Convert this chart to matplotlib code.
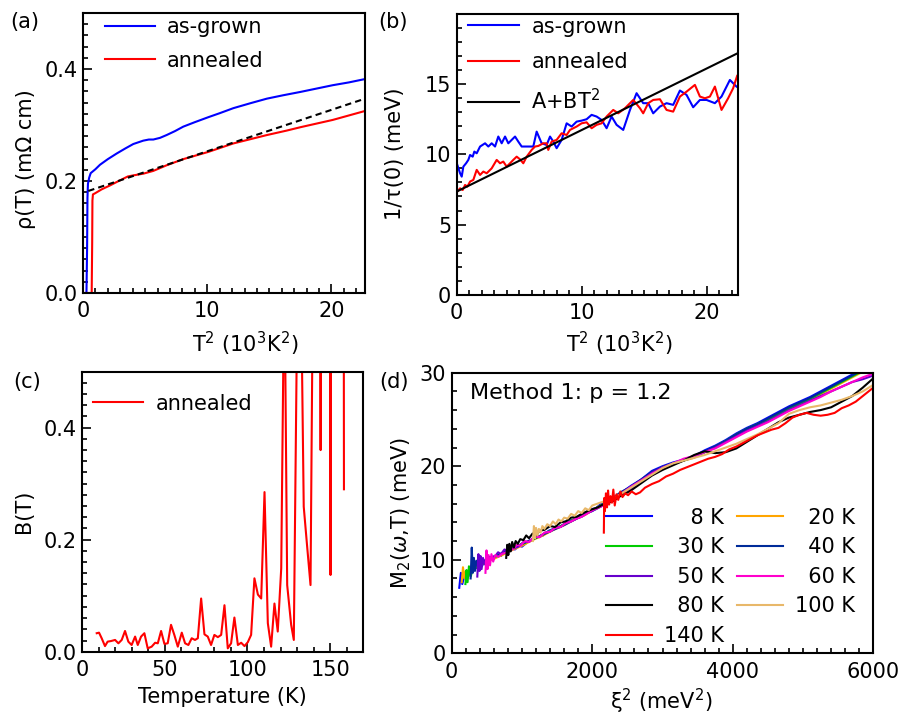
# -*- coding: utf-8 -*-
"""
Four panel figure: resistivity, scattering rate, B(T) and M2 scaling
"""

import numpy as np
import matplotlib
matplotlib.use('Agg')
import matplotlib.pyplot as plt
from matplotlib.ticker import MultipleLocator, FormatStrFormatter

plt.rcParams['font.family'] = ['DejaVu Sans']
plt.rcParams['font.size'] = 15
plt.rcParams['mathtext.fontset'] = 'dejavusans'

################ DATOS ####################################################

# (a) rho(T) vs T^2  (10^3 K^2)
rho_grown_x = [0.2, 0.28, 0.33, 0.36, 0.40, 0.50, 0.62, 1.0, 1.37, 2.0, 2.71, 3.4, 4.05,
               4.85, 5.3, 5.66, 6.2, 6.73, 7.4, 8.07, 9.0, 10.1, 11.0, 12.1, 13.5, 14.8,
               16.1, 17.5, 18.8, 20.1, 21.4, 22.7]
rho_grown_y = [0.0, 0.0, 0.08, 0.17, 0.195, 0.206, 0.214, 0.221, 0.229, 0.239, 0.249, 0.258,
               0.266, 0.272, 0.274, 0.274, 0.277, 0.282, 0.289, 0.297, 0.305, 0.314, 0.321,
               0.330, 0.339, 0.347, 0.353, 0.359, 0.365, 0.371, 0.376, 0.382]
rho_ann_x = [0.2, 0.7, 0.74, 0.76, 0.8, 0.97, 1.5, 2.17, 2.7, 3.24, 3.6, 4.05, 4.85, 5.66,
             6.73, 8.07, 10.1, 12.1, 14.8, 16.4, 17.5, 20.1, 22.7]
rho_ann_y = [0.0, 0.0, 0.09, 0.165, 0.176, 0.178, 0.185, 0.192, 0.198, 0.204, 0.208, 0.210,
             0.213, 0.218, 0.228, 0.239, 0.252, 0.267, 0.282, 0.290, 0.296, 0.309, 0.325]
rho_fit_A = 0.179
rho_fit_B = 0.0074
rho_fit_range = [0.43, 22.7]

# (b) 1/tau(0) vs T^2
tau_grown_x = [0.05, 0.27, 0.40, 0.53, 0.75, 0.93, 1.07, 1.28, 1.41, 1.60, 1.87, 2.27, 2.53,
               2.80, 3.07, 3.33, 3.60, 3.87, 4.13, 4.40, 4.67, 4.93, 5.20, 5.60, 6.13, 6.40,
               6.80, 7.20, 7.47, 7.73, 8.00, 8.40, 8.80, 9.20, 9.60, 10.00, 10.40, 10.80,
               11.20, 11.60, 12.00, 12.40, 12.80, 13.33, 13.87, 14.40, 14.93, 15.33, 15.73,
               16.27, 16.80, 17.33, 17.87, 18.40, 18.93, 19.47, 20.00, 20.67, 21.20, 21.87,
               22.40]
tau_grown_y = [9.24, 8.65, 8.41, 9.12, 9.36, 9.60, 9.95, 9.83, 10.19, 10.07, 10.55, 10.78,
               10.55, 10.78, 10.55, 11.26, 10.78, 11.26, 10.78, 11.02, 11.26, 10.90, 10.55,
               10.55, 10.55, 11.61, 10.78, 10.66, 11.26, 10.90, 10.43, 11.02, 12.20, 11.97,
               12.32, 12.39, 12.49, 12.80, 12.68, 12.44, 11.85, 12.68, 12.09, 11.73, 13.15,
               14.34, 13.63, 13.63, 12.91, 13.39, 13.63, 13.51, 14.53, 14.22, 13.34, 13.86,
               13.86, 13.63, 14.10, 15.28, 14.81]
tau_ann_x = [0.05, 0.27, 0.48, 0.67, 0.85, 1.07, 1.33, 1.60, 1.87, 2.13, 2.40, 2.80, 3.20,
             3.47, 3.73, 4.00, 4.27, 4.53, 4.80, 5.07, 5.33, 5.60, 6.00, 6.27, 6.53, 6.93,
             7.20, 7.33, 7.60, 8.00, 8.40, 8.80, 9.07, 9.60, 10.00, 10.40, 10.80, 11.20,
             11.60, 12.00, 12.53, 12.93, 13.47, 14.13, 14.67, 14.93, 15.33, 15.73, 16.27,
             16.80, 17.33, 17.87, 18.40, 19.07, 19.47, 19.87, 20.27, 20.67, 21.20, 21.73,
             22.13, 22.45]
tau_ann_y = [7.35, 7.58, 7.46, 7.82, 7.70, 8.06, 8.18, 8.89, 8.53, 8.77, 8.65, 9.00, 9.60,
             9.36, 9.48, 9.12, 9.36, 9.60, 9.83, 9.64, 9.36, 9.83, 10.31, 10.55, 10.59,
             10.78, 10.78, 10.31, 10.90, 11.02, 11.49, 11.37, 11.73, 11.97, 12.20, 12.27,
             11.85, 12.09, 12.20, 12.68, 13.15, 12.91, 13.27, 13.86, 13.27, 12.91, 13.63,
             13.86, 13.91, 13.15, 13.03, 14.10, 14.45, 14.93, 14.10, 13.98, 14.10, 14.81,
             13.15, 13.98, 14.69, 15.57]
tau_fit_A = 7.35
tau_fit_B = 0.437
tau_fit_range = [0.0, 22.5]

# (c) B(T) annealed
T_c = [8.9, 10.3, 11.9, 13.9, 15.5, 17.5, 20.0, 22.0, 24.0, 26.0, 28.0, 30.0, 32.1, 33.7,
       35.7, 37.7, 39.7, 42.1, 44.2, 45.8, 47.8, 49.8, 51.8, 53.8, 55.8, 57.9, 60.3, 62.3,
       64.3, 66.3, 68.3, 70.0, 72.0, 74.0, 76.0, 78.0, 80.0, 82.1, 84.1, 86.1, 88.1, 90.1,
       92.1, 94.2, 96.2, 98.2, 100.2, 102.2, 104.2, 106.3, 108.3, 110.3, 112.3, 114.3,
       116.3, 118.3, 120.4, 122.3, 124.0, 126.4, 128.0, 130.0, 132.0, 134.0, 136.0, 138.1,
       140.0, 142.0, 144.2, 146.0, 148.0, 150.2, 152.0, 154.0, 156.0, 158.3]
B_c = [0.033, 0.034, 0.024, 0.010, 0.018, 0.019, 0.021, 0.015, 0.021, 0.037, 0.018, 0.012,
       0.027, 0.012, 0.027, 0.033, 0.006, 0.009, 0.016, 0.015, 0.037, 0.014, 0.015, 0.048,
       0.030, 0.009, 0.034, 0.015, 0.012, 0.024, 0.021, 0.024, 0.095, 0.031, 0.027, 0.012,
       0.030, 0.026, 0.030, 0.083, 0.006, 0.015, 0.061, 0.012, 0.016, 0.010, 0.017, 0.030,
       0.131, 0.102, 0.095, 0.285, 0.051, 0.009, 0.086, 0.036, 0.149, 0.70, 0.119, 0.048,
       0.021, 0.60, 0.74, 0.259, 0.19, 0.119, 0.84, 8.0, 0.36, 8.0, 8.0, 0.137, 8.0, 8.0,
       8.0, 0.29]

# (d) M2(w,T) vs xi^2
xi_grid = [2400, 2550, 2700, 2850, 3000, 3150, 3300, 3450, 3600, 3750, 3900, 4050, 4200,
           4350, 4500, 4650, 4800, 4950, 5100, 5250, 5400, 5550, 5700, 5850, 6000]

xi_8 = [107, 130, 150, 170, 200, 230, 260, 300, 330, 360, 400, 430, 460, 500, 540, 600,
        650, 700, 760, 800, 860, 900, 960, 1000, 1080, 1150, 1220, 1300, 1380, 1450, 1530,
        1600, 1680, 1750, 1830, 1900, 1980, 2050, 2130, 2200] + xi_grid
m2_8 = [7.0, 8.6, 7.4, 8.0, 8.4, 8.1, 8.9, 9.0, 9.4, 9.1, 9.6, 9.3, 9.8, 9.9, 10.3, 10.1,
        10.5, 10.4, 10.9, 10.7, 11.2, 11.1, 11.5, 11.4, 11.9, 12.2, 12.4, 12.6, 13.1, 13.3,
        13.5, 13.8, 14.2, 14.3, 14.8, 14.9, 15.4, 15.5, 16.0, 16.2,
        17.1, 17.9, 18.6, 19.5, 20.0, 20.4, 20.7, 21.1, 21.7, 22.2, 22.8, 23.5, 24.1, 24.6,
        25.2, 25.8, 26.4, 26.9, 27.4, 28.0, 28.6, 29.2, 29.8, 30.4, 31.0]

xi_20 = [142, 160, 180, 200, 230, 260, 300, 350, 420, 500, 600, 720, 850, 1000, 1150, 1300,
         1450, 1600, 1750, 1900, 2050, 2200] + xi_grid
m2_20 = [7.6, 9.2, 8.0, 8.8, 8.5, 9.0, 8.9, 9.3, 9.5, 9.8, 10.1, 10.5, 11.0, 11.5, 12.1,
         12.6, 13.2, 13.7, 14.3, 14.8, 15.5, 16.1,
         16.9, 17.7, 18.5, 19.2, 19.8, 20.2, 20.6, 20.9, 21.5, 22.0, 22.6, 23.3, 23.9, 24.4,
         24.9, 25.5, 26.1, 26.6, 27.1, 27.7, 28.3, 28.9, 29.5, 30.1, 30.6]

xi_30 = [195, 210, 225, 245, 270, 300, 340, 380, 430, 500, 580, 680, 800, 950, 1100, 1250,
         1400, 1550, 1700, 1850, 2000, 2150, 2300] + xi_grid
m2_30 = [7.4, 8.9, 7.6, 9.3, 8.2, 9.0, 9.1, 9.6, 9.5, 9.9, 10.2, 10.5, 10.9, 11.5, 12.0,
         12.5, 13.1, 13.6, 14.2, 14.7, 15.3, 15.9, 16.4,
         17.0, 17.8, 18.5, 19.3, 19.9, 20.3, 20.6, 21.0, 21.5, 22.1, 22.7, 23.4, 24.0, 24.5,
         25.0, 25.6, 26.2, 26.7, 27.2, 27.8, 28.4, 29.0, 29.6, 30.2, 30.8]

xi_40 = [269, 285, 300, 315, 330, 350, 375, 400, 440, 480, 540, 620, 720, 850, 1000, 1150,
         1300, 1450, 1600, 1750, 1900, 2050, 2200] + xi_grid
m2_40 = [8.0, 11.3, 8.6, 10.2, 8.8, 9.9, 9.2, 9.8, 9.6, 10.0, 10.1, 10.4, 10.7, 11.1, 11.7,
         12.2, 12.7, 13.2, 13.7, 14.3, 14.9, 15.4, 16.0,
         17.2, 17.8, 18.6, 19.4, 19.9, 20.3, 20.6, 21.0, 21.6, 22.1, 22.7, 23.4, 24.0, 24.5,
         25.1, 25.7, 26.3, 26.8, 27.3, 27.9, 28.5, 29.1, 29.7, 30.3, 30.9]

xi_50 = [364, 380, 395, 410, 425, 445, 470, 500, 530, 570, 620, 660, 700, 750, 800, 870,
         950, 1020, 1100, 1170, 1250, 1330, 1400, 1480, 1550, 1630, 1700, 1780, 1850, 1930,
         2000, 2080, 2150, 2230, 2300] + xi_grid
m2_50 = [8.2, 10.6, 8.8, 10.4, 9.0, 10.2, 9.5, 10.1, 9.9, 10.3, 10.4, 10.8, 10.6, 11.1,
         10.9, 11.2, 11.4, 11.9, 11.9, 12.4, 12.5, 12.9, 13.0, 13.5, 13.5, 14.0, 14.1, 14.4,
         14.6, 15.0, 15.2, 15.6, 15.8, 16.2, 16.3,
         16.9, 17.6, 18.4, 19.3, 19.9, 20.3, 20.7, 21.0, 21.5, 22.0, 22.6, 23.2, 23.8, 24.3,
         24.8, 25.4, 26.0, 26.5, 27.0, 27.5, 28.0, 28.5, 29.0, 29.3, 29.7]

xi_60 = [480, 495, 510, 525, 545, 565, 590, 620, 660, 710, 780, 830, 870, 930, 980, 1040,
         1100, 1180, 1250, 1320, 1400, 1470, 1550, 1620, 1700, 1770, 1850, 1920, 2000, 2070,
         2150, 2230, 2300] + xi_grid
m2_60 = [8.6, 11.0, 9.0, 10.5, 9.4, 10.6, 9.8, 10.5, 10.3, 10.6, 10.8, 11.3, 11.1, 11.6,
         11.5, 12.0, 11.9, 12.5, 12.4, 12.9, 13.0, 13.4, 13.5, 13.9, 14.1, 14.4, 14.6, 14.9,
         15.3, 15.5, 15.8, 16.2, 16.4,
         17.0, 17.8, 18.5, 19.2, 19.8, 20.3, 20.8, 21.1, 21.5, 21.9, 22.5, 23.1, 23.7, 24.2,
         24.7, 25.3, 25.9, 26.4, 26.9, 27.4, 28.0, 28.5, 29.0, 29.5, 29.9]

xi_80 = [775, 790, 805, 820, 840, 860, 885, 910, 940, 975, 1020, 1060, 1100, 1150, 1200,
         1250, 1320, 1400, 1470, 1550, 1620, 1700, 1780, 1850, 1930, 2000, 2080, 2150, 2230,
         2300] + xi_grid
m2_80 = [10.2, 11.6, 10.5, 11.7, 10.9, 11.9, 11.3, 12.0, 11.7, 12.2, 12.1, 12.6, 12.3, 12.8,
         12.6, 13.1, 13.2, 13.6, 13.5, 14.0, 14.1, 14.5, 14.6, 14.9, 15.2, 15.4, 15.6, 15.9,
         16.1, 16.3,
         16.8, 17.4, 18.2, 19.0, 19.6, 20.1, 20.6, 21.2, 21.6, 21.4, 21.5, 21.9, 22.6, 23.3,
         24.0, 24.7, 25.2, 25.5, 25.8, 26.0, 26.3, 26.9, 27.5, 28.4, 29.4]

xi_100 = [1155, 1170, 1185, 1200, 1220, 1240, 1265, 1290, 1320, 1360, 1400, 1440, 1480,
          1520, 1560, 1600, 1650, 1700, 1750, 1800, 1850, 1900, 1950, 2000, 2075, 2150,
          2225, 2300] + xi_grid
m2_100 = [12.0, 13.6, 12.3, 13.4, 12.6, 13.3, 12.9, 13.6, 13.3, 13.8, 13.6, 14.1, 13.8,
          14.3, 14.1, 14.5, 14.4, 14.9, 14.7, 15.2, 15.0, 15.5, 15.3, 15.8, 16.0, 16.2,
          16.3, 16.6,
          17.0, 17.7, 18.4, 19.1, 19.8, 20.3, 20.6, 20.9, 21.2, 21.6, 22.0, 22.4, 22.9, 23.4,
          24.0, 24.6, 25.6, 26.0, 26.3, 26.5, 26.8, 27.1, 27.5, 28.0, 28.7]

xi_140 = [2165, 2170, 2180, 2195, 2210, 2225, 2240, 2260, 2280, 2300, 2320, 2345, 2370, 2400,
          2430, 2470, 2510, 2560, 2620, 2680, 2750, 2850, 2950, 3050, 3150, 3250, 3350, 3450,
          3550, 3650, 3750, 3850, 3950, 4050, 4150, 4250, 4350, 4450, 4550, 4650, 4750, 4850,
          4950, 5050, 5150, 5250, 5350, 5450, 5550, 5650, 5750, 5850, 5950, 6000]
m2_140 = [12.9, 16.6, 15.2, 17.1, 15.6, 17.4, 15.9, 16.8, 16.1, 17.5, 15.8, 17.0, 16.4, 17.3,
          16.7, 17.1, 16.9, 17.3, 17.0, 17.2, 17.7, 18.1, 18.4, 18.9, 19.2, 19.6, 19.9, 20.2,
          20.5, 20.8, 21.0, 21.3, 21.8, 22.1, 22.5, 22.9, 23.3, 23.6, 23.9, 24.1, 24.6, 25.2,
          25.5, 25.7, 25.5, 25.4, 25.5, 25.7, 26.2, 26.5, 26.9, 27.5, 28.1, 28.4]

series_d = [('8 K', xi_8, m2_8, '#0000ff'),
            ('20 K', xi_20, m2_20, '#ffa500'),
            ('30 K', xi_30, m2_30, '#00cc00'),
            ('40 K', xi_40, m2_40, '#002b99'),
            ('50 K', xi_50, m2_50, '#6600cc'),
            ('60 K', xi_60, m2_60, '#ff00cc'),
            ('80 K', xi_80, m2_80, '#000000'),
            ('100 K', xi_100, m2_100, '#e8b86a'),
            ('140 K', xi_140, m2_140, '#ff0000')]

############## Visualizacion #############################################

LW = 1.5
FS = 15


def estilo(ax, xmaj, xmin, ymaj, ymin):
    ax.xaxis.set_major_locator(MultipleLocator(xmaj))
    ax.xaxis.set_minor_locator(MultipleLocator(xmin))
    ax.yaxis.set_major_locator(MultipleLocator(ymaj))
    ax.yaxis.set_minor_locator(MultipleLocator(ymin))
    ax.tick_params(which='both', direction='in', top=False, right=False,
                   labelsize=FS, width=1.2)
    ax.tick_params(which='major', length=6.5)
    ax.tick_params(which='minor', length=3.3)
    ax.tick_params(axis='x', pad=6)
    ax.tick_params(axis='y', pad=4)
    for s in ax.spines.values():
        s.set_linewidth(1.5)


fig = plt.figure(figsize=(9.06, 7.16), dpi=100)

# ---- (a)
ax1 = fig.add_axes([0.0916, 0.5908, 0.3113, 0.3911])
ax1.plot(rho_grown_x, rho_grown_y, color='#0000ff', lw=LW, label='as-grown')
ax1.plot(rho_ann_x, rho_ann_y, color='#ff0000', lw=LW, label='annealed')
xf = np.array(rho_fit_range)
ax1.plot(xf, rho_fit_A + rho_fit_B * xf, color='k', lw=LW, ls=(0, (3, 2)))
ax1.set_xlim(0, 22.7)
ax1.set_ylim(0, 0.5)
estilo(ax1, 10, 1, 0.2, 0.02)
ax1.yaxis.set_major_formatter(FormatStrFormatter('%.1f'))
ax1.set_xlabel(r'T$^2$ (10$^3$K$^2$)', fontsize=FS)
ax1.xaxis.set_label_coords(0.574, -0.13)
ax1.set_ylabel(r'ρ(T) (mΩ cm)', fontsize=FS)
ax1.yaxis.set_label_coords(-0.167, 0.479)
ax1.legend(loc='upper left', bbox_to_anchor=(0.078, 0.985), frameon=False, fontsize=FS,
           handlelength=2.4, handletextpad=0.55, labelspacing=0.65, borderpad=0,
           borderaxespad=0)

# ---- (b)
ax2 = fig.add_axes([0.5041, 0.5880, 0.3102, 0.3925])
ax2.plot(tau_grown_x, tau_grown_y, color='#0000ff', lw=LW, label='as-grown')
ax2.plot(tau_ann_x, tau_ann_y, color='#ff0000', lw=LW, label='annealed')
xf = np.array(tau_fit_range)
ax2.plot(xf, tau_fit_A + tau_fit_B * xf, color='k', lw=LW, label=r'A+BT$^2$')
ax2.set_xlim(0, 22.5)
ax2.set_ylim(0, 19.97)
estilo(ax2, 10, 1, 5, 1)
ax2.set_xlabel(r'T$^2$ (10$^3$K$^2$)', fontsize=FS)
ax2.xaxis.set_label_coords(0.578, -0.125)
ax2.set_ylabel(r'1/τ(0) (meV)', fontsize=FS)
ax2.yaxis.set_label_coords(-0.184, 0.504)
ax2.legend(loc='upper left', bbox_to_anchor=(0.040, 0.99), frameon=False, fontsize=FS,
           handlelength=2.45, handletextpad=0.6, labelspacing=0.75, borderpad=0,
           borderaxespad=0)

# ---- (c)
ax3 = fig.add_axes([0.0905, 0.0898, 0.3105, 0.3911])
ax3.plot(T_c, B_c, color='#ff0000', lw=LW, label='annealed')
ax3.set_xlim(0, 170)
ax3.set_ylim(0, 0.5)
estilo(ax3, 50, 10, 0.2, 0.02)
ax3.yaxis.set_major_formatter(FormatStrFormatter('%.1f'))
ax3.set_xlabel('Temperature (K)', fontsize=FS)
ax3.xaxis.set_label_coords(0.5, -0.125)
ax3.set_ylabel('B(T)', fontsize=FS)
ax3.yaxis.set_label_coords(-0.171, 0.50)
ax3.legend(loc='upper left', bbox_to_anchor=(0.039, 0.922), frameon=False, fontsize=FS,
           handlelength=2.4, handletextpad=0.6, borderpad=0, borderaxespad=0)

# ---- (d)
ax4 = fig.add_axes([0.4986, 0.0876, 0.4653, 0.3919])
lineas = {}
for nombre, xx, yy, col in series_d:
    lineas[nombre], = ax4.plot(xx, yy, color=col, lw=LW)
ax4.set_xlim(0, 6000)
ax4.set_ylim(0, 30)
estilo(ax4, 2000, 200, 10, 2)
ax4.set_xlabel(r'ξ$^2$ (meV$^2$)', fontsize=FS)
ax4.xaxis.set_label_coords(0.496, -0.12)
ax4.set_ylabel(r'M$_2$($\omega$,T) (meV)', fontsize=FS)
ax4.yaxis.set_label_coords(-0.092, 0.50)
ax4.text(0.043, 0.928, 'Method 1: p = 1.2', transform=ax4.transAxes, fontsize=16,
         va='center', ha='left')

# orden por filas: la columna 1 tiene 8,30,50,80,140 y la 2 tiene 20,40,60,100
fsp = '\u2007'
orden = [('8 K', fsp * 2 + '8 K'), ('30 K', fsp + '30 K'), ('50 K', fsp + '50 K'),
         ('80 K', fsp + '80 K'), ('140 K', '140 K'), ('20 K', fsp + '20 K'),
         ('40 K', fsp + '40 K'), ('60 K', fsp + '60 K'), ('100 K', '100 K')]
ax4.legend([lineas[k] for k, _ in orden], [t for _, t in orden], ncol=2,
           loc='lower left', bbox_to_anchor=(0.366, 0.026), frameon=False, fontsize=FS,
           handlelength=2.2, handletextpad=0.6, labelspacing=0.46, columnspacing=0.6,
           borderpad=0, borderaxespad=0)

# ---- letras de panel
fig.text(0.011, 0.969, '(a)', fontsize=FS, va='center')
fig.text(0.417, 0.969, '(b)', fontsize=FS, va='center')
fig.text(0.015, 0.467, '(c)', fontsize=FS, va='center')
fig.text(0.419, 0.466, '(d)', fontsize=FS, va='center')

fig.savefig('out.png', dpi=100)
